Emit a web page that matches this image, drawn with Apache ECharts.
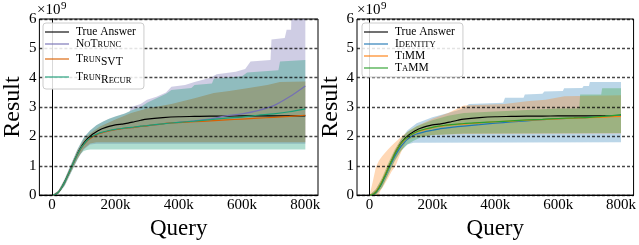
<!DOCTYPE html>
<html><head><meta charset="utf-8">
<script src="https://cdn.jsdelivr.net/npm/echarts@6/dist/echarts.min.js"></script>
<style>html,body{margin:0;padding:0;background:#fff}#c{width:639px;height:245px}</style>
</head><body><div id="c"></div>
<script>
// x positions (in thousands of queries)
const X = [0,10,20,30,40,50,60,70,80,90,100,110,120,130,140,150,160,180,200,220,240,260,280,300,350,400,450,500,550,600,650,700,750,800];
const xTicks = [0,200,400,600,800];
const yTicks = [0,1,2,3,4,5,6];

// values in units of 1e9
const trueAnswer = [0,0.02,0.1,0.25,0.45,0.68,0.92,1.16,1.4,1.6,1.77,1.9,2.0,2.09,2.16,2.22,2.27,2.34,2.39,2.42,2.45,2.5,2.55,2.59,2.64,2.67,2.68,2.69,2.69,2.7,2.7,2.7,2.7,2.7];
// left panel
const noTrunc  = [0,0.02,0.1,0.25,0.45,0.68,0.92,1.16,1.38,1.57,1.72,1.84,1.93,2.0,2.05,2.1,2.13,2.19,2.23,2.26,2.29,2.31,2.34,2.36,2.43,2.48,2.53,2.6,2.7,2.77,2.88,3.05,3.35,3.72];
const trunSVT  = [0,0.02,0.1,0.25,0.45,0.68,0.92,1.16,1.38,1.57,1.72,1.84,1.93,2.0,2.05,2.1,2.13,2.19,2.23,2.26,2.29,2.31,2.34,2.36,2.43,2.47,2.5,2.53,2.56,2.59,2.62,2.65,2.68,2.72];
const trunRecur= [0,0.02,0.1,0.25,0.45,0.68,0.92,1.16,1.38,1.58,1.73,1.86,1.95,2.02,2.07,2.12,2.15,2.2,2.24,2.27,2.3,2.32,2.35,2.37,2.43,2.48,2.52,2.57,2.62,2.66,2.72,2.77,2.84,2.94];
// right panel
const identity = [0,0.02,0.1,0.24,0.43,0.65,0.88,1.1,1.32,1.5,1.66,1.79,1.9,1.98,2.04,2.08,2.11,2.17,2.21,2.25,2.28,2.31,2.33,2.35,2.4,2.45,2.49,2.53,2.57,2.6,2.62,2.65,2.68,2.72];
const tiMM     = [0,0.03,0.12,0.27,0.47,0.7,0.93,1.17,1.4,1.6,1.75,1.87,1.96,2.04,2.1,2.15,2.19,2.25,2.3,2.34,2.37,2.39,2.41,2.42,2.46,2.5,2.52,2.55,2.57,2.6,2.62,2.64,2.66,2.68];
const taMM     = [0,0.02,0.1,0.25,0.45,0.68,0.92,1.16,1.39,1.59,1.75,1.88,1.97,2.05,2.11,2.16,2.2,2.26,2.31,2.35,2.38,2.4,2.42,2.44,2.47,2.5,2.53,2.56,2.58,2.61,2.63,2.65,2.69,2.74];

// bands: [x (thousands), value (1e9)]
const noTruncUpper = [[0,0],[20,0.15],[40,0.55],[60,1.05],[80,1.55],[100,1.95],[120,2.2],[140,2.38],[160,2.5],[180,2.6],[200,2.68],[230,2.78],[245,2.85],[250,3.0],[280,3.1],[300,3.25],[330,3.35],[360,3.5],[377,3.69],[420,3.75],[450,3.85],[500,4.0],[520,4.12],[580,4.2],[610,4.3],[627,4.55],[690,4.6],[693,5.3],[735,5.35],[741,5.63],[755,5.63],[757,6.5],[800,6.5]];
const noTruncLower = [[0,0],[20,0.05],[40,0.33],[60,0.78],[80,1.22],[100,1.55],[120,1.72],[140,1.75],[800,1.75]];
const trunSVTUpper = [[0,0],[20,0.14],[40,0.52],[60,1.0],[80,1.5],[100,1.88],[120,2.1],[150,2.33],[200,2.58],[250,2.8],[300,2.95],[377,3.1],[450,3.3],[511,3.48],[560,3.55],[616,3.64],[680,3.75],[720,3.85],[800,3.87]];
const trunSVTLower = [[0,0],[20,0.05],[40,0.36],[60,0.8],[80,1.25],[100,1.58],[120,1.76],[140,1.8],[800,1.8]];
const trunRecurUpper = [[0,0],[20,0.15],[40,0.55],[60,1.05],[80,1.55],[100,1.95],[120,2.2],[140,2.38],[160,2.5],[180,2.6],[200,2.68],[230,2.78],[250,2.88],[280,3.0],[300,3.15],[330,3.3],[360,3.45],[377,3.58],[440,3.65],[450,3.75],[505,3.8],[511,3.96],[600,4.05],[616,4.18],[715,4.25],[720,4.55],[800,4.6]];
const trunRecurLower = [[0,0],[20,0.04],[40,0.32],[60,0.76],[80,1.2],[90,1.4],[100,1.5],[110,1.54],[120,1.55],[800,1.55]];

const identityUpper = [[0,0],[20,0.2],[40,0.55],[60,1.05],[80,1.5],[100,1.9],[120,2.2],[150,2.45],[200,2.65],[250,2.8],[300,2.95],[316,3.1],[425,3.15],[431,3.32],[490,3.32],[494,3.43],[550,3.45],[556,3.53],[615,3.55],[619,3.64],[677,3.65],[681,3.72],[698,3.72],[701,3.85],[800,3.85]];
const identityLower = [[0,0],[20,0],[40,0.28],[60,0.72],[80,1.18],[100,1.52],[120,1.72],[140,1.78],[800,1.8]];
const tiMMUpper = [[0,0],[10,0.45],[20,0.95],[30,1.18],[40,1.32],[50,1.45],[60,1.57],[70,1.68],[80,1.78],[90,1.88],[100,1.98],[120,2.15],[150,2.35],[200,2.6],[250,2.8],[300,3.05],[430,3.1],[500,3.2],[560,3.25],[620,3.37],[800,3.4]];
const tiMMLower = [[0,0],[29,0],[35,0.16],[45,0.32],[60,0.6],[70,0.8],[83,1.0],[90,1.2],[100,1.45],[117,1.85],[140,1.95],[160,2.0],[200,2.05],[300,2.08],[800,2.1]];
const taMMUpper = [[0,0],[20,0.2],[40,0.6],[60,1.1],[80,1.55],[100,1.9],[120,2.15],[150,2.35],[200,2.55],[250,2.7],[300,2.8],[400,2.85],[500,2.9],[600,2.95],[667,2.95],[670,3.43],[737,3.43],[740,3.64],[800,3.64]];
const taMMLower = [[0,0],[20,0],[40,0.25],[60,0.7],[80,1.15],[100,1.5],[120,1.72],[140,1.85],[160,1.95],[200,2.05],[300,2.1],[800,2.12]];

const FONT = "'Liberation Serif', 'DejaVu Serif', serif";
const chart = echarts.init(document.getElementById('c'), null, {renderer:'canvas'});

function band(name, g, upper, lower, color) {
  return {
    type:'custom', name:name, xAxisIndex:g, yAxisIndex:g, clip:true, silent:true,
    data:[[0,0]], encode:{x:0,y:1}, z:1,
    renderItem:function(params, api){
      const pts = upper.map(p=>api.coord([p[0]*1000,p[1]]))
        .concat(lower.slice().reverse().map(p=>api.coord([p[0]*1000,p[1]])));
      return {type:'polygon', shape:{points:pts}, style:{fill:color}};
    }
  };
}
function line(name, g, vals, color) {
  return {
    type:'line', name:name, xAxisIndex:g, yAxisIndex:g, z:3,
    data:X.map((x,i)=>[x*1000, vals[i]]),
    showSymbol:false, symbol:'none', smooth:0.3,
    lineStyle:{color:color, width:1.2}, itemStyle:{color:color}
  };
}
function xAxis(g) {
  return {
    type:'value', gridIndex:g, min:-40000, max:840000,
    axisLine:{show:true, onZero:false, lineStyle:{color:'#000', width:1}},
    axisTick:{show:false}, splitLine:{show:false},
    axisLabel:{customValues:xTicks.map(v=>v*1000), formatter:v=>v===0?'0':(v/1000)+'k',
      fontFamily:FONT, fontSize:15, color:'#000', margin:2},
    name:'Query', nameLocation:'middle', nameGap:9,
    nameTextStyle:{fontFamily:FONT, fontSize:23, color:'#000'}
  };
}
function yAxis(g) {
  return {
    type:'value', gridIndex:g, min:0, max:6, interval:1, z:5,
    axisLine:{show:true, lineStyle:{color:'#000', width:1}},
    axisTick:{show:false},
    splitLine:{show:true, lineStyle:{color:'rgba(0,0,0,0.72)', type:[3,2], width:1.3}},
    axisLabel:{fontFamily:FONT, fontSize:15, color:'#000', margin:3},
    name:'Result', nameLocation:'middle', nameRotate:90, nameGap:13,
    nameTextStyle:{fontFamily:FONT, fontSize:24, color:'#000'}
  };
}
const RICH_TXT = {
  'True Answer':'{a|True Answer}',
  'NoTrunc':'{a|N}{b|O}{a|T}{b|RUNC}',
  'TrunSVT':'{a|T}{b|RUN}{s|SVT}',
  'TrunRecur':'{a|T}{b|RUN}{s|R}{sb|ECUR}',
  'Identity':'{a|I}{b|DENTITY}',
  'TiMM':'{a|T}{b|I}{a|MM}',
  'TaMM':'{a|T}{b|A}{a|MM}'
};
const rich = {
  a:{fontFamily:FONT, fontSize:11.5, lineHeight:16, color:'#000'},
  b:{fontFamily:FONT, fontSize:8.5, lineHeight:14, padding:[2,0,0,0], color:'#000'},
  s:{fontFamily:FONT, fontSize:11.5, lineHeight:11, padding:[6,0,0,0], color:'#000'},
  sb:{fontFamily:FONT, fontSize:8.5, lineHeight:9, padding:[8,0,0,0], color:'#000'}
};
function legend(left, names) {
  return {
    orient:'vertical', left:left, top:23, padding:[3,8,3,2], itemGap:0,
    itemWidth:24, itemHeight:1.6, icon:'rect', z:10,
    backgroundColor:'rgba(255,255,255,0.85)', borderColor:'#ccc', borderWidth:1, borderRadius:3,
    selectedMode:false, data:names.map(n=>({name:n, itemStyle:{opacity:0.7}})),
    formatter:n=>RICH_TXT[n],
    textStyle:{fontFamily:FONT, fontSize:11.5, color:'#000', rich:rich, padding:[0,0,0,2]}
  };
}
const C = {purple:'#7570b3', orange:'#d95f02', teal:'#1b9e77', blue:'#1f77b4', torange:'#ff7f0e', green:'#2ca02c'};

const option = {
  animation:false,
  backgroundColor:'#fff',
  grid:[
    {left:37, top:19, width:281, height:186, show:true, borderColor:'#000', borderWidth:1, backgroundColor:'transparent'},
    {left:357, top:19, width:281, height:186, show:true, borderColor:'#000', borderWidth:1, backgroundColor:'transparent'}
  ],
  xAxis:[xAxis(0), xAxis(1)],
  yAxis:[yAxis(0), yAxis(1)],
  legend:[
    legend(43, ['True Answer','NoTrunc','TrunSVT','TrunRecur']),
    legend(362, ['True Answer','Identity','TiMM','TaMM'])
  ],
  graphic:[
    {type:'text', left:37, top:3, style:{text:'×10', font:'15px '+FONT, fill:'#000'}},
    {type:'text', left:61, top:1, style:{text:'9', font:'11px '+FONT, fill:'#000'}},
    {type:'text', left:357, top:3, style:{text:'×10', font:'15px '+FONT, fill:'#000'}},
    {type:'text', left:381, top:1, style:{text:'9', font:'11px '+FONT, fill:'#000'}}
  ],
  series:[
    band('NoTrunc band',0,noTruncUpper,noTruncLower,'rgba(117,112,179,0.35)'),
    band('TrunSVT band',0,trunSVTUpper,trunSVTLower,'rgba(217,95,2,0.4)'),
    band('TrunRecur band',0,trunRecurUpper,trunRecurLower,'rgba(27,158,119,0.35)'),
    band('Identity band',1,identityUpper,identityLower,'rgba(31,119,180,0.3)'),
    band('TiMM band',1,tiMMUpper,tiMMLower,'rgba(255,127,14,0.3)'),
    band('TaMM band',1,taMMUpper,taMMLower,'rgba(44,160,44,0.3)'),
    line('True Answer',0,trueAnswer,'#000'),
    line('NoTrunc',0,noTrunc,C.purple),
    line('TrunSVT',0,trunSVT,C.orange),
    line('TrunRecur',0,trunRecur,C.teal),
    line('True Answer',1,trueAnswer,'#000'),
    line('Identity',1,identity,C.blue),
    line('TiMM',1,tiMM,C.torange),
    line('TaMM',1,taMM,C.green)
  ]
};
chart.setOption(option);
</script></body></html>
